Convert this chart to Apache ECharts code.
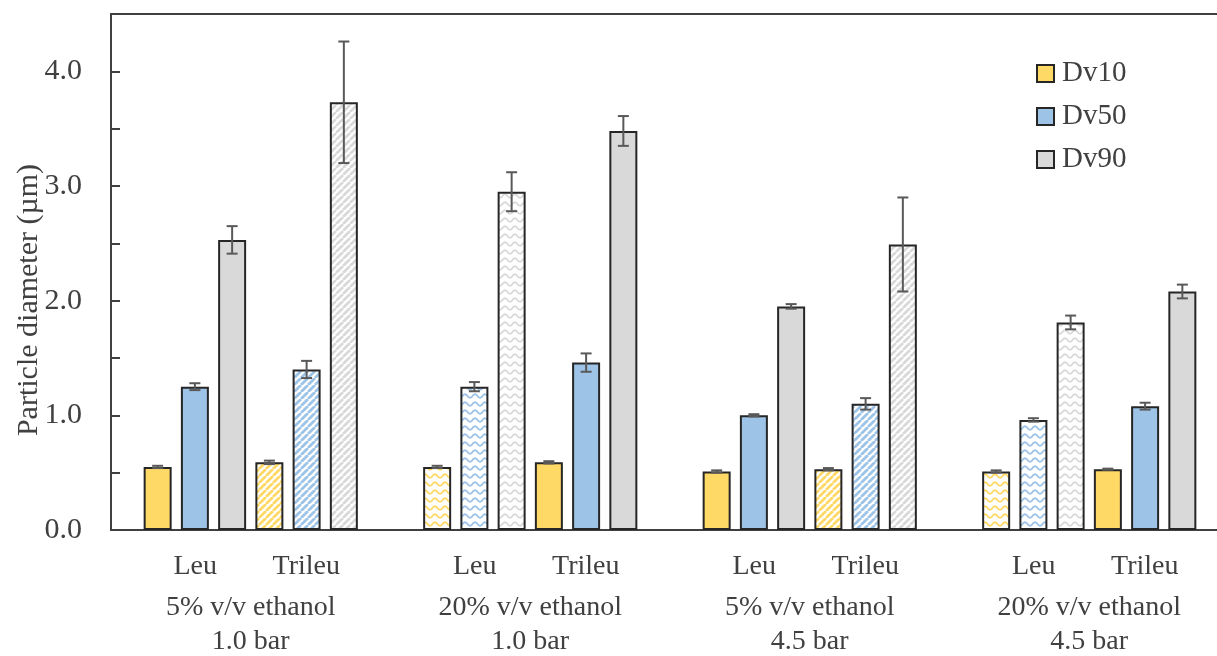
<!DOCTYPE html>
<html>
<head>
<meta charset="utf-8">
<title>Particle diameter</title>
<script src="https://cdn.jsdelivr.net/npm/echarts@6/dist/echarts.min.js"></script>
<style>
  html, body { margin: 0; padding: 0; background: #ffffff; }
  #chart { width: 1217px; height: 656px; }
</style>
</head>
<body>
<div id="chart"></div>
<script>
// Condition groups along the x axis
const ethanolLabels = ['5% v/v ethanol', '20% v/v ethanol', '5% v/v ethanol', '20% v/v ethanol'];
const pressureLabels = ['1.0 bar', '1.0 bar', '4.5 bar', '4.5 bar'];
const peptides = ['Leu', 'Trileu'];
const sizeNames = ['Dv10', 'Dv50', 'Dv90'];

// Mean particle diameters (µm) per condition group
const leuDv10 = [0.55, 0.55, 0.51, 0.51];
const leuDv50 = [1.25, 1.25, 1.00, 0.96];
const leuDv90 = [2.53, 2.95, 1.95, 1.81];
const trileuDv10 = [0.59, 0.59, 0.53, 0.53];
const trileuDv50 = [1.40, 1.46, 1.10, 1.08];
const trileuDv90 = [3.73, 3.48, 2.49, 2.08];

// Standard deviations (µm)
const leuDv10Err = [0.01, 0.01, 0.01, 0.01];
const leuDv50Err = [0.03, 0.04, 0.01, 0.015];
const leuDv90Err = [0.12, 0.17, 0.02, 0.06];
const trileuDv10Err = [0.015, 0.01, 0.01, 0.005];
const trileuDv50Err = [0.075, 0.08, 0.05, 0.03];
const trileuDv90Err = [0.53, 0.13, 0.41, 0.06];

// Fill style of each group's bars
const leuFill = ['solid', 'wave', 'solid', 'wave'];
const trileuFill = ['diagonal', 'solid', 'diagonal', 'solid'];

// Y axis ticks
const yMin = 0;
const yMax = 4.5;
const yStep = 0.5;

const COLORS = ['#FFD966', '#9DC3E6', '#D9D9D9'];
const FONT = "'Liberation Serif', 'Times New Roman', serif";
const BAR_WIDTH = 28;
const BAR_GAP = 0.33;

function makeFill(kind, color) {
  if (kind === 'solid') return color;
  const c = document.createElement('canvas');
  const ctx = c.getContext('2d');
  if (kind === 'diagonal') {
    const s = 7;
    c.width = s; c.height = s;
    ctx.fillStyle = '#ffffff';
    ctx.fillRect(0, 0, s, s);
    ctx.strokeStyle = color;
    ctx.lineWidth = 2.8;
    ctx.beginPath();
    for (let k = -s; k <= s; k += s) {
      ctx.moveTo(k, s);
      ctx.lineTo(k + s, 0);
    }
    ctx.stroke();
  } else {
    const w = 10, h = 8;
    c.width = w; c.height = h;
    ctx.fillStyle = '#ffffff';
    ctx.fillRect(0, 0, w, h);
    ctx.strokeStyle = color;
    ctx.lineWidth = 1.8;
    ctx.beginPath();
    for (let x = 0; x <= w; x += 0.5) {
      const y = 4 + 1.8 * Math.cos(2 * Math.PI * x / w);
      if (x === 0) ctx.moveTo(x, y); else ctx.lineTo(x, y);
    }
    ctx.stroke();
  }
  return { image: c, repeat: 'repeat' };
}

const barSets = [
  { values: leuDv10, errs: leuDv10Err, fills: leuFill, size: 0 },
  { values: leuDv50, errs: leuDv50Err, fills: leuFill, size: 1 },
  { values: leuDv90, errs: leuDv90Err, fills: leuFill, size: 2 },
  { values: trileuDv10, errs: trileuDv10Err, fills: trileuFill, size: 0 },
  { values: trileuDv50, errs: trileuDv50Err, fills: trileuFill, size: 1 },
  { values: trileuDv90, errs: trileuDv90Err, fills: trileuFill, size: 2 }
];

const barSeries = barSets.map(function (set) {
  const color = COLORS[set.size];
  return {
    name: sizeNames[set.size],
    type: 'bar',
    barWidth: BAR_WIDTH,
    barGap: (BAR_GAP * 100) + '%',
    itemStyle: { color: color, borderColor: '#262626', borderWidth: 2 },
    emphasis: { disabled: true },
    data: set.values.map(function (v, i) {
      return { value: v, itemStyle: { color: makeFill(set.fills[i], color) } };
    })
  };
});

// Error bar records: [group index, mean, sd, slot within group]
const errorData = [];
barSets.forEach(function (set, slot) {
  set.values.forEach(function (v, i) {
    errorData.push([i, v, set.errs[i], slot]);
  });
});

const errorSeries = {
  name: 'sd',
  type: 'custom',
  z: 10,
  encode: { x: 0, y: 1 },
  data: errorData,
  renderItem: function (params, api) {
    const cat = api.value(0);
    const mean = api.value(1);
    const sd = api.value(2);
    const slot = api.value(3);
    const pitch = BAR_WIDTH * (1 + BAR_GAP);
    const hi = api.coord([cat, mean + sd]);
    const lo = api.coord([cat, mean - sd]);
    const x = hi[0] + (slot - 2.5) * pitch;
    const cap = 5.5;
    const style = { stroke: '#595959', lineWidth: 2 };
    return {
      type: 'group',
      children: [
        { type: 'line', shape: { x1: x, y1: hi[1], x2: x, y2: lo[1] }, style: style },
        { type: 'line', shape: { x1: x - cap, y1: hi[1], x2: x + cap, y2: hi[1] }, style: style },
        { type: 'line', shape: { x1: x - cap, y1: lo[1], x2: x + cap, y2: lo[1] }, style: style }
      ]
    };
  }
};

const chart = echarts.init(document.getElementById('chart'), null, { renderer: 'canvas' });

chart.setOption({
  animation: false,
  backgroundColor: '#ffffff',
  textStyle: { fontFamily: FONT },
  grid: {
    left: 111, top: 14, width: 1118, height: 516,
    outerBoundsMode: 'none',
    containLabel: false,
    show: true, borderColor: '#404040', borderWidth: 2, backgroundColor: 'transparent'
  },
  legend: {
    data: sizeNames,
    orient: 'vertical',
    left: 1031, top: 54,
    itemWidth: 17, itemHeight: 17, itemGap: 14,
    icon: 'rect',
    selectedMode: false,
    textStyle: { fontFamily: FONT, fontSize: 29, color: '#404040', padding: [0, 0, 0, 3] }
  },
  xAxis: {
    type: 'category',
    data: ethanolLabels.map(function (_, i) { return i; }),
    axisLine: { show: true, lineStyle: { color: '#404040', width: 2 } },
    axisTick: { show: false },
    axisLabel: {
      interval: 0,
      margin: 13,
      color: '#404040',
      fontFamily: FONT,
      fontSize: 28,
      lineHeight: 34,
      formatter: function (value, index) {
        return '{p|' + peptides[0] + '}{p|' + peptides[1] + '}\n' +
          '{c|' + ethanolLabels[index] + '}\n{c|' + pressureLabels[index] + '}';
      },
      rich: {
        p: { width: 111, align: 'center', fontSize: 28, fontFamily: FONT, color: '#404040', lineHeight: 48 },
        c: { fontSize: 28, fontFamily: FONT, color: '#404040', lineHeight: 34 }
      }
    }
  },
  yAxis: {
    type: 'value',
    min: yMin, max: yMax, interval: yStep,
    name: 'Particle diameter (µm)',
    nameLocation: 'middle',
    nameGap: 67,
    nameMoveOverlap: false,
    nameTextStyle: { fontFamily: FONT, fontSize: 30, color: '#404040', padding: [0, 56, 0, 0] },
    axisLine: { show: true, lineStyle: { color: '#404040', width: 2 } },
    axisTick: { show: true, inside: true, length: 9, lineStyle: { color: '#404040', width: 2 } },
    splitLine: { show: false },
    axisLabel: {
      margin: 29,
      color: '#404040',
      fontFamily: FONT,
      fontSize: 30,
      formatter: function (v) {
        return (Math.abs(v - Math.round(v)) < 1e-9 && v <= 4) ? v.toFixed(1) : '';
      }
    }
  },
  series: barSeries.concat([errorSeries])
});
</script>
</body>
</html>
